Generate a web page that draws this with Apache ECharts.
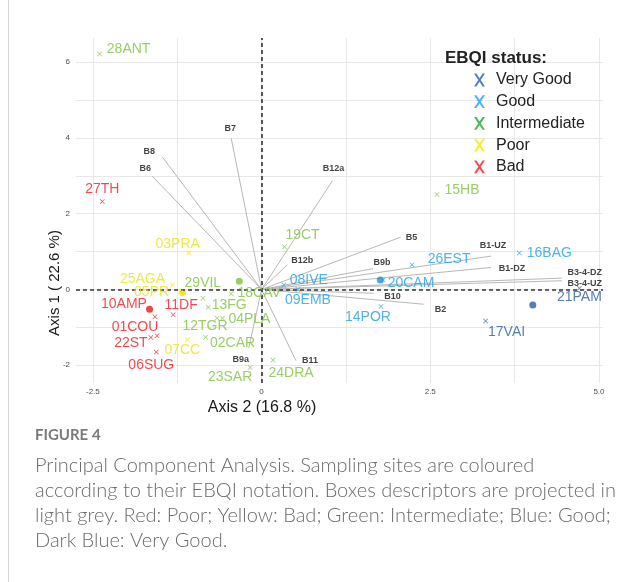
<!DOCTYPE html>
<html>
<head>
<meta charset="utf-8">
<script src="https://cdn.jsdelivr.net/npm/echarts@6/dist/echarts.min.js"></script>
<style>
html,body{margin:0;padding:0;background:#fff;}
#pca_show{width:641px;height:582px;}
</style>
</head>
<body>
<div id="pca_show"></div>
<script>
// sites (Axis 2 = x, Axis 1 = y)
const siteNames = ['28ANT','27TH','03PRA','25AGA','05PR','29VIL','18CAV','10AMP','11DF','13FG','04PLA','12TGR','01COU','22ST','02CAR','07CC','06SUG','23SAR','24DRA','19CT','15HB','08IVE','09EMB','26EST','20CAM','14POR','16BAG','21PAM','17VAI'];
const siteAxis2 = [-2.40,-2.36,-1.08,-1.32,-1.20,-0.87,-0.45,-1.58,-1.31,-0.79,-0.58,-0.66,-1.55,-1.64,-0.83,-1.10,-1.56,-0.17,0.17,0.34,2.60,0.33,0.54,2.23,1.80,1.77,3.82,4.71,3.32];
const siteAxis1 = [6.22,2.32,0.97,0.12,-0.07,-0.23,-0.11,-0.72,-0.67,-0.47,-0.76,-0.76,-1.22,-1.27,-1.26,-1.33,-1.65,-2.06,-1.86,1.13,2.51,0.12,0.00,0.65,0.25,-0.45,0.96,0.03,-0.83];
const siteStatus = ['Intermediate','Bad','Poor','Poor','Poor','Intermediate','Intermediate','Bad','Bad','Intermediate','Intermediate','Intermediate','Bad','Bad','Intermediate','Poor','Bad','Intermediate','Intermediate','Intermediate','Intermediate','Good','Good','Good','Good','Good','Good','Very Good','Very Good'];

// group centroids
const statusGroups = ['Very Good','Good','Intermediate','Poor','Bad'];
const centroidAxis2 = [4.02,1.76,-0.33,-1.17,-1.66];
const centroidAxis1 = [-0.41,0.25,0.22,-0.08,-0.52];

// box descriptors
const descNames = ['B7','B8','B6','B12a','B12b','B5','B9b','B1-UZ','B1-DZ','B3-4-DZ','B3-4-UZ','B10','B2','B11','B9a'];
const descAxis2 = [-0.45,-1.47,-1.62,1.05,0.38,2.06,1.65,3.40,3.40,4.45,4.45,1.66,2.40,0.51,-0.19];
const descAxis1 = [3.99,3.50,2.99,2.87,0.65,1.38,0.55,0.88,0.58,0.30,0.23,-0.10,-0.39,-1.88,-1.55];

// axes
const xGrid = [-2.5,-1.25,0,1.25,2.5,3.75,5];
const xTicks = [-2.5,0,2.5,5];
const xTickLabels = ['-2.5','0','2.5','5.0'];
const yGrid = [-2,-1,0,1,2,3,4,5,6];
const yTicks = [-2,0,2,4,6];

// styles
const pointColors = {'Very Good':'#2d5da9','Good':'#20a0e2','Intermediate':'#80c241','Poor':'#e9e21b','Bad':'#ec1c24'};
const legendColors = {'Very Good':'#1f5fbf','Good':'#1ea3ea','Intermediate':'#1fa33a','Poor':'#f4e800','Bad':'#ee1f25'};
const centroidColors = {'Very Good':'#2f5ca8','Good':'#2391cc','Intermediate':'#80c241','Poor':'#ece200','Bad':'#e9161c'};
const siteLabelOffset = {
  '28ANT':[29,-5],'27TH':[0,-12],'03PRA':[-11,-9],'25AGA':[-30,-6],'05PR':[-29,0],'29VIL':[0,-15],
  '18CAV':[28,0],'10AMP':[-31,-13],'11DF':[8,-10],'13FG':[21,-2],'04PLA':[27,1],'12TGR':[-12,8],
  '01COU':[-22,-9],'22ST':[-20,6],'02CAR':[27,6],'07CC':[-5,10],'06SUG':[-5,13],'23SAR':[-20,10],
  '24DRA':[18,13],'19CT':[18,-12],'15HB':[25,-4],'08IVE':[25,-5],'09EMB':[10,11],'26EST':[37,-6],
  '20CAM':[28,3],'14POR':[-13,11],'16BAG':[30,0],'21PAM':[0,9],'17VAI':[21,11]
};
const descLabelOffset = {
  'B7':[-1,-10],'B8':[-13,-5],'B6':[-7,-8],'B12a':[1,-12],'B12b':[15,-4],'B5':[11,0],'B9b':[9,-6],
  'B1-UZ':[2,-11],'B1-DZ':[21,1],'B3-4-DZ':[23,-6],'B3-4-UZ':[23,3],'B10':[19,3],'B2':[17,5],'B11':[14,0],'B9a':[-8,11]
};
const xMark = 'path://M0,1L1,0L5,4L9,0L10,1L6,5L10,9L9,10L5,6L1,10L0,9L4,5Z';
const legendMark = 'path://M0,0L2.6,0L6,5L9.4,0L12,0L7.3,7L12,14L9.4,14L6,9L2.6,14L0,14L4.7,7Z';

let oChart = echarts.init(document.getElementById('pca_show'));

let aSeries = [];

// descriptor arrows (light grey lines from origin)
aSeries.push({
  name: 'descriptors',
  type: 'lines',
  coordinateSystem: 'cartesian2d',
  silent: true,
  z: 2,
  lineStyle: {color: '#b8b8b8', width: 1, opacity: 1},
  data: descNames.map((n, i) => ({coords: [[0, 0], [descAxis2[i], descAxis1[i]]]}))
});

// descriptor labels + dashed zero lines
aSeries.push({
  name: 'descLabels',
  type: 'scatter',
  symbolSize: 0.1,
  z: 3,
  itemStyle: {color: 'rgba(0,0,0,0)'},
  label: {
    show: true,
    formatter: '{b}',
    position: 'inside',
    color: '#111',
    fontSize: 9,
    fontWeight: 'bold',
    fontFamily: 'Liberation Sans, Arial, sans-serif'
  },
  data: descNames.map((n, i) => ({
    name: n,
    value: [descAxis2[i], descAxis1[i]],
    label: {offset: descLabelOffset[n]}
  })),
  markLine: {
    silent: true,
    symbol: 'none',
    label: {show: false},
    lineStyle: {color: '#333', type: [4, 3], width: 1.6},
    data: [{xAxis: 0}, {yAxis: 0}]
  }
});

// sites by EBQI status
statusGroups.forEach(g => {
  let aData = [];
  for (let i = 0; i < siteNames.length; i++) {
    if (siteStatus[i] !== g) continue;
    aData.push({
      name: siteNames[i],
      value: [siteAxis2[i], siteAxis1[i]],
      label: {offset: siteLabelOffset[siteNames[i]]}
    });
  }
  aSeries.push({
    name: g,
    type: 'scatter',
    symbol: xMark,
    symbolSize: 5,
    z: 5,
    itemStyle: {color: pointColors[g]},
    label: {
      show: true,
      formatter: '{b}',
      position: 'inside',
      color: pointColors[g],
      fontSize: 14,
      fontFamily: 'Liberation Sans, Arial, sans-serif'
    },
    data: aData
  });
});

// centroids
aSeries.push({
  name: 'centroids',
  type: 'scatter',
  symbol: 'circle',
  symbolSize: 7,
  z: 4,
  data: statusGroups.map((g, i) => ({
    value: [centroidAxis2[i], centroidAxis1[i]],
    itemStyle: {color: centroidColors[g]}
  }))
});

let oOpt = {
  animation: false,
  backgroundColor: '#fff',
  title: {
    text: 'EBQI status:',
    left: 440,
    top: 45,
    textStyle: {fontSize: 17, fontWeight: 'bold', color: '#222', fontFamily: 'Liberation Sans, Arial, sans-serif'}
  },
  legend: {
    orient: 'vertical',
    left: 469,
    top: 67,
    icon: legendMark,
    itemWidth: 11,
    itemHeight: 13,
    itemGap: 5.7,
    selectedMode: false,
    textStyle: {fontSize: 16, color: '#222', fontFamily: 'Liberation Sans, Arial, sans-serif', padding: [0, 0, 0, 6]},
    data: statusGroups.map(g => ({name: g, itemStyle: {color: legendColors[g]}}))
  },
  grid: {left: 76, right: 38, top: 38, bottom: 199, containLabel: false},
  xAxis: {
    type: 'value',
    min: -2.75,
    max: 5.06,
    axisLine: {show: false},
    axisTick: {show: false, customValues: xGrid},
    axisLabel: {
      customValues: xTicks,
      fontSize: 8,
      color: '#4d4d4d',
      margin: 5,
      formatter: v => xTickLabels[xTicks.indexOf(v)]
    },
    splitLine: {show: true, lineStyle: {color: '#e8e8e8', width: 1}}
  },
  yAxis: {
    type: 'value',
    min: -2.47,
    max: 6.64,
    axisLine: {show: false},
    axisTick: {show: false, customValues: yGrid},
    axisLabel: {
      customValues: yTicks,
      fontSize: 8,
      color: '#4d4d4d',
      margin: 6
    },
    splitLine: {show: true, lineStyle: {color: '#e8e8e8', width: 1}}
  },
  series: aSeries,
  graphic: [
    {type: 'line', shape: {x1: 8.5, y1: 0, x2: 8.5, y2: 582}, style: {stroke: '#d6d6d6', lineWidth: 1}},
    {
      type: 'text', x: 262, y: 408,
      style: {text: 'Axis 2 (16.8 %)', font: '16px "Liberation Sans Narrow", "Liberation Sans", sans-serif', fill: '#1a1a1a', align: 'center', verticalAlign: 'middle'}
    },
    {
      type: 'text', x: 55, y: 283, rotation: Math.PI / 2,
      style: {text: 'Axis 1 ( 22.6 %)', font: '15px "Liberation Sans", Arial, sans-serif', fill: '#1a1a1a', align: 'center', verticalAlign: 'middle'}
    },
    {
      type: 'text', left: 35, top: 428,
      style: {text: 'FIGURE 4', font: 'bold 15px Lato, sans-serif', fill: '#7a7a7a'}
    },
    {
      type: 'text', left: 35, top: 453,
      style: {
        text: 'Principal Component Analysis. Sampling sites are coloured\naccording to their EBQI notation. Boxes descriptors are projected in\nlight grey. Red: Poor; Yellow: Bad; Green: Intermediate; Blue: Good;\nDark Blue: Very Good.',
        font: '300 20px Lato, sans-serif', lineHeight: 25, fill: '#6b6b6b'
      }
    }
  ]
};

oChart.setOption(oOpt);
</script>
</body>
</html>
